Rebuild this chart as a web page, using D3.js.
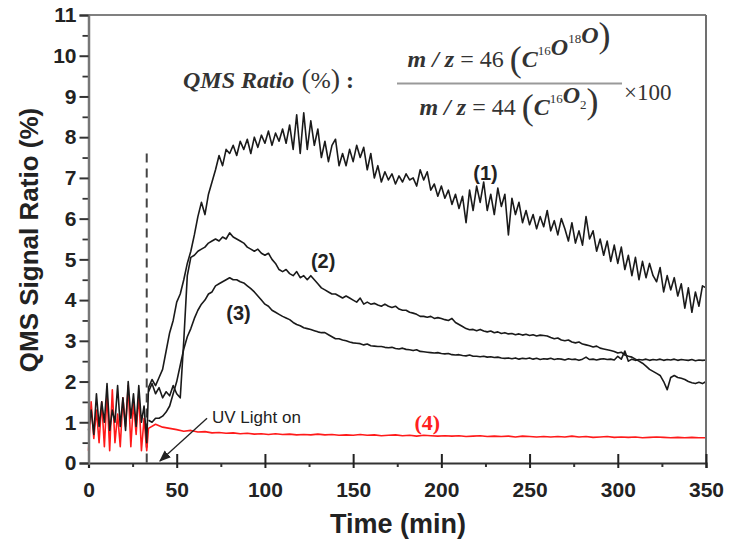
<!DOCTYPE html>
<html><head><meta charset="utf-8">
<script src="https://cdn.jsdelivr.net/npm/d3@7"></script>
<style>html,body{margin:0;padding:0;background:#fff;}svg{display:block;}</style>
</head><body>
<svg id="chart" width="730" height="549"></svg>
<script>
// ---------- data ----------
const xTicks = [0, 50, 100, 150, 200, 250, 300, 350];
const yTicks = [0,1,2,3,4,5,6,7,8,9,10,11];
const uvTime = 33;              // UV light on (dashed line)
const uvDashTop = 7.6;

// noisy baseline before UV (1.5-min steps, t = 0..33)
const earlyStart = 0, earlyStep = 1.5;
const blackEarly = [0.8,1.3,0.7,1.7,0.9,1.5,1.0,1.95,0.8,1.3,1.0,1.9,0.9,1.6,0.8,2.0,1.1,1.7,0.9,1.9,1.0,1.4,0.5];
const redEarly   = [0.3,1.5,0.6,1.3,0.5,1.5,0.4,1.7,0.3,1.8,0.5,1.2,0.4,1.6,0.9,1.9,0.4,1.5,0.7,1.7,0.3,1.1,0.3];

// after UV (2-min steps, t = 34..350)
const lateStart = 34, lateStep = 2;
const series1 = [1.85,2.05,1.9,2.1,2.3,2.75,3.2,3.5,3.95,4.15,4.5,4.9,5.2,5.6,6.05,6.4,6.1,6.6,6.9,7.2,7.55,7.3,7.7,7.6,7.8,7.55,7.9,7.7,7.95,7.6,8.0,7.75,8.05,7.85,8.15,7.8,8.1,7.9,8.2,7.85,8.3,7.7,8.55,7.6,8.6,7.7,8.4,7.8,8.2,7.5,7.9,7.4,7.8,7.95,7.3,7.6,7.3,7.7,7.4,7.8,7.5,7.75,7.2,7.6,7.0,7.3,6.9,7.15,6.95,7.1,6.85,7.05,6.9,7.1,6.95,7.0,6.8,7.2,6.95,7.15,6.7,6.85,6.55,6.8,6.5,6.7,6.35,6.6,6.25,6.55,5.9,6.7,6.2,6.8,6.4,6.9,6.2,6.6,6.1,6.75,6.3,6.6,5.6,6.5,6.1,6.4,5.9,6.2,5.85,6.1,5.75,6.05,5.8,6.2,5.7,5.95,5.6,6.0,5.75,5.45,5.9,5.4,5.7,5.35,6.05,5.5,5.7,5.2,5.5,5.1,5.45,4.95,5.35,4.9,5.3,4.75,5.1,4.6,5.05,4.5,4.95,4.55,4.9,4.6,4.45,4.8,4.2,4.6,4.25,4.55,4.1,4.4,3.8,4.3,3.7,4.2,3.85,4.35,4.3];
const series2 = [1.75,1.95,1.7,1.85,1.6,1.75,1.65,1.9,1.7,1.6,3.0,4.6,5.05,5.1,5.2,5.25,5.3,5.4,5.45,5.5,5.45,5.55,5.5,5.65,5.55,5.5,5.45,5.4,5.3,5.25,5.2,5.25,5.15,5.1,5.15,5.0,4.9,4.75,4.7,4.75,4.65,4.6,4.7,4.55,4.6,4.5,4.6,4.5,4.4,4.3,4.25,4.2,4.15,4.15,4.1,4.05,4.1,4.05,4.0,3.95,4.05,3.9,3.95,3.9,3.92,3.88,3.85,3.9,3.85,3.82,3.85,3.78,3.75,3.75,3.7,3.68,3.65,3.6,3.6,3.58,3.6,3.55,3.57,3.55,3.52,3.5,3.55,3.45,3.4,3.35,3.3,3.27,3.28,3.25,3.28,3.24,3.22,3.24,3.2,3.22,3.18,3.2,3.17,3.18,3.15,3.17,3.14,3.16,3.13,3.15,3.12,3.14,3.13,3.12,3.08,3.05,3.07,3.02,3.0,3.02,2.97,2.95,2.97,2.92,2.9,2.88,2.85,2.87,2.82,2.8,2.78,2.76,2.74,2.7,2.72,2.65,2.62,2.6,2.55,2.5,2.45,2.38,2.3,2.25,2.2,2.15,2.0,1.8,2.1,2.15,2.1,2.08,2.05,2.0,1.97,1.95,1.98,1.95,2.0];
const series3 = [1.05,1.0,1.1,1.1,1.15,1.25,1.4,1.7,2.0,2.4,2.8,3.1,3.3,3.55,3.75,3.9,4.0,4.15,4.2,4.35,4.4,4.45,4.5,4.55,4.5,4.5,4.45,4.42,4.35,4.28,4.2,4.1,4.0,3.9,3.85,3.75,3.7,3.65,3.6,3.56,3.52,3.45,3.4,3.37,3.32,3.3,3.28,3.25,3.22,3.2,3.2,3.15,3.1,3.05,3.05,3.02,3.0,2.97,2.95,2.94,2.93,2.9,2.92,2.88,2.87,2.86,2.86,2.84,2.83,2.84,2.81,2.8,2.82,2.79,2.78,2.76,2.78,2.74,2.73,2.72,2.71,2.7,2.71,2.69,2.68,2.69,2.66,2.65,2.66,2.64,2.63,2.65,2.62,2.62,2.61,2.62,2.6,2.61,2.59,2.6,2.58,2.57,2.58,2.56,2.58,2.55,2.57,2.56,2.58,2.55,2.57,2.54,2.56,2.55,2.57,2.54,2.56,2.55,2.53,2.56,2.54,2.55,2.52,2.55,2.6,2.54,2.55,2.53,2.55,2.56,2.54,2.55,2.53,2.62,2.55,2.75,2.5,2.55,2.52,2.54,2.53,2.55,2.52,2.54,2.53,2.55,2.52,2.54,2.53,2.55,2.52,2.54,2.53,2.52,2.54,2.51,2.53,2.52,2.53];

// red trace after UV (4-min steps, t = 34..350)
const redStart = 34, redStep = 4;
const series4 = [0.85,0.95,0.88,0.85,0.82,0.78,0.8,0.76,0.77,0.74,0.75,0.73,0.74,0.72,0.73,0.71,0.72,0.7,0.72,0.7,0.71,0.69,0.7,0.69,0.71,0.69,0.7,0.68,0.69,0.68,0.7,0.68,0.69,0.67,0.68,0.69,0.67,0.68,0.66,0.68,0.67,0.66,0.67,0.66,0.67,0.65,0.66,0.67,0.65,0.66,0.65,0.66,0.64,0.66,0.65,0.64,0.65,0.64,0.65,0.64,0.66,0.64,0.65,0.63,0.64,0.65,0.63,0.64,0.63,0.64,0.62,0.63,0.64,0.63,0.62,0.63,0.62,0.63,0.62,0.62];

const labels = [
  {text:"(1)", t:225, v:7.12, color:"#222", font:"bold 20px 'Liberation Sans', Arial, sans-serif"},
  {text:"(2)", t:133, v:4.96, color:"#222", font:"bold 20px 'Liberation Sans', Arial, sans-serif"},
  {text:"(3)", t:85,  v:3.69, color:"#222", font:"bold 20px 'Liberation Sans', Arial, sans-serif"},
  {text:"(4)", t:192, v:1.0,  color:"#ff2020", font:"bold 22px 'Liberation Serif', 'Times New Roman', serif"}
];
const uvText = {text:"UV Light on", t:70, v:0.98};
const uvArrow = {t0:67.2, v0:1.1, t1:40.5, v1:0.05};

// ---------- layout ----------
const svg = d3.select("#chart");
const x = d3.scaleLinear().domain([0,350]).range([88.5,706]);
const y = d3.scaleLinear().domain([0,11]).range([463,15]);

const toPts = (arr, start, step) => arr.map((v,i)=>[start+i*step, v]);
const line = d3.line().x(d=>x(d[0])).y(d=>y(d[1]));

svg.append("defs").append("marker")
  .attr("id","ah").attr("viewBox","0 0 10 10").attr("refX",9).attr("refY",5)
  .attr("markerWidth",9).attr("markerHeight",9).attr("orient","auto")
  .append("path").attr("d","M0,1 L10,5 L0,9 Z").attr("fill","#222");

// dashed UV line
svg.append("line")
  .attr("x1",x(uvTime)).attr("x2",x(uvTime))
  .attr("y1",y(uvDashTop)).attr("y2",y(0))
  .attr("stroke","#444").attr("stroke-width",2).attr("stroke-dasharray","9,6");

// red series
const redPts = toPts(redEarly, earlyStart, earlyStep).concat(toPts(series4, redStart, redStep));
svg.append("path").attr("d", line(redPts)).attr("fill","none")
  .attr("stroke","#ff1a1a").attr("stroke-width",1.6).attr("stroke-linejoin","round");

// black series
const early = toPts(blackEarly, earlyStart, earlyStep);
[series3, series2, series1].forEach((s,k)=>{
  const pts = (k===2 ? early : []).concat(toPts(s, lateStart, lateStep));
  svg.append("path").attr("d", line(pts)).attr("fill","none")
    .attr("stroke","#1a1a1a").attr("stroke-width",1.6).attr("stroke-linejoin","round");
});

// frame (top & right)
svg.append("line").attr("x1",x(0)).attr("x2",x(350)).attr("y1",y(11)).attr("y2",y(11))
  .attr("stroke","#808080").attr("stroke-width",2);
svg.append("line").attr("x1",x(350)).attr("x2",x(350)).attr("y1",y(11)).attr("y2",y(0))
  .attr("stroke","#707070").attr("stroke-width",2);

// x axis
const xAxis = svg.append("g").attr("transform",`translate(0,${y(0)})`);
xAxis.call(d3.axisBottom(x).tickValues(d3.range(25,350,50)).tickSize(4).tickFormat(""));
xAxis.call(g=>g.select(".domain").remove());
xAxis.selectAll(".tick line").attr("stroke","#333").attr("stroke-width",2);
const xMaj = svg.append("g").attr("transform",`translate(0,${y(0)})`)
  .call(d3.axisBottom(x).tickValues(xTicks).tickSize(5).tickPadding(14));
xMaj.select(".domain").attr("stroke","#333").attr("stroke-width",2.2);
xMaj.selectAll(".tick line").attr("y1",-9).attr("stroke","#222").attr("stroke-width",2);
xMaj.selectAll(".tick text").attr("font-family","'Liberation Sans', Arial, sans-serif")
  .attr("font-weight","bold").attr("font-size",21).attr("fill","#222");

// y axis
const yMin = svg.append("g").attr("transform",`translate(${x(0)},0)`)
  .call(d3.axisLeft(y).tickValues(d3.range(0.5,11,1)).tickSize(6).tickFormat(""));
yMin.select(".domain").remove();
yMin.selectAll(".tick line").attr("stroke","#333").attr("stroke-width",1.8);
const yMaj = svg.append("g").attr("transform",`translate(${x(0)},0)`)
  .call(d3.axisLeft(y).tickValues(yTicks).tickSize(9).tickPadding(3));
yMaj.select(".domain").attr("stroke","#777").attr("stroke-width",2.5);
yMaj.selectAll(".tick line").attr("stroke","#333").attr("stroke-width",2);
yMaj.selectAll(".tick text").attr("font-family","'Liberation Sans', Arial, sans-serif")
  .attr("font-weight","bold").attr("font-size",21).attr("fill","#222");

// axis titles
svg.append("text").attr("x",398).attr("y",533).attr("text-anchor","middle")
  .attr("font-family","'Liberation Sans', Arial, sans-serif").attr("font-weight","bold")
  .attr("font-size",27).attr("fill","#222").text("Time (min)");
svg.append("text").attr("transform","translate(38,240) rotate(-90)").attr("text-anchor","middle")
  .attr("font-family","'Liberation Sans', Arial, sans-serif").attr("font-weight","bold")
  .attr("font-size",26).attr("fill","#222").text("QMS Signal Ratio (%)");

// curve labels
labels.forEach(l=>{
  svg.append("text").attr("x",x(l.t)).attr("y",y(l.v)).attr("dy","0.35em")
    .attr("text-anchor","middle").attr("fill",l.color).style("font",l.font).text(l.text);
});

// UV annotation
svg.append("text").attr("x",x(uvText.t)).attr("y",y(uvText.v))
  .attr("font-family","'Liberation Sans', Arial, sans-serif").attr("font-size",17)
  .attr("fill","#222").text(uvText.text);
svg.append("line").attr("x1",x(uvArrow.t0)).attr("y1",y(uvArrow.v0))
  .attr("x2",x(uvArrow.t1)).attr("y2",y(uvArrow.v1))
  .attr("stroke","#222").attr("stroke-width",1.3).attr("marker-end","url(#ah)");

// formula
const serif = "'Liberation Serif', 'Times New Roman', serif";
const f = svg.append("g").attr("fill","#333").attr("font-family",serif);
const t1 = f.append("text").attr("x",183).attr("y",88).attr("font-size",24);
t1.append("tspan").attr("font-weight","bold").attr("font-style","italic").text("QMS Ratio");
t1.append("tspan").attr("font-size",28).text(" (");
t1.append("tspan").attr("font-size",24).text("%");
t1.append("tspan").attr("font-size",28).text(")");
t1.append("tspan").attr("font-weight","bold").text(" :");

function frac(yb, mz, parts){
  const t = f.append("text").attr("x",509).attr("y",yb).attr("text-anchor","middle").attr("font-size",24);
  t.append("tspan").attr("font-weight","bold").attr("font-style","italic").text("m / z");
  t.append("tspan").text(" = " + mz + " ");
  t.append("tspan").attr("font-size",36).attr("dy",4).text("(");
  let first = true;
  parts.forEach(p=>{
    if(p.sup){ t.append("tspan").attr("font-size",13).attr("dy",-12).text(p.sup); t.append("tspan").attr("dy",12).text(""); }
    else if(p.sub){ t.append("tspan").attr("font-size",13).attr("dy",6).text(p.sub); t.append("tspan").attr("dy",-6).text(""); }
    else { const s=t.append("tspan").attr("font-weight","bold").attr("font-style","italic").text(p.b); if(first){s.attr("dy",-4); first=false;} }
  });
  t.append("tspan").attr("font-size",36).attr("dy",4).text(")");
}
frac(67, "46", [{b:"C"},{sup:"16"},{b:"O"},{sup:"18"},{b:"O"}]);
frac(115, "44", [{b:"C"},{sup:"16"},{b:"O"},{sub:"2"}]);
f.append("line").attr("x1",397).attr("x2",622).attr("y1",83.5).attr("y2",83.5)
  .attr("stroke","#999").attr("stroke-width",2.2);
f.append("text").attr("x",624).attr("y",100).attr("font-size",23).text("×100");
</script>
</body></html>
